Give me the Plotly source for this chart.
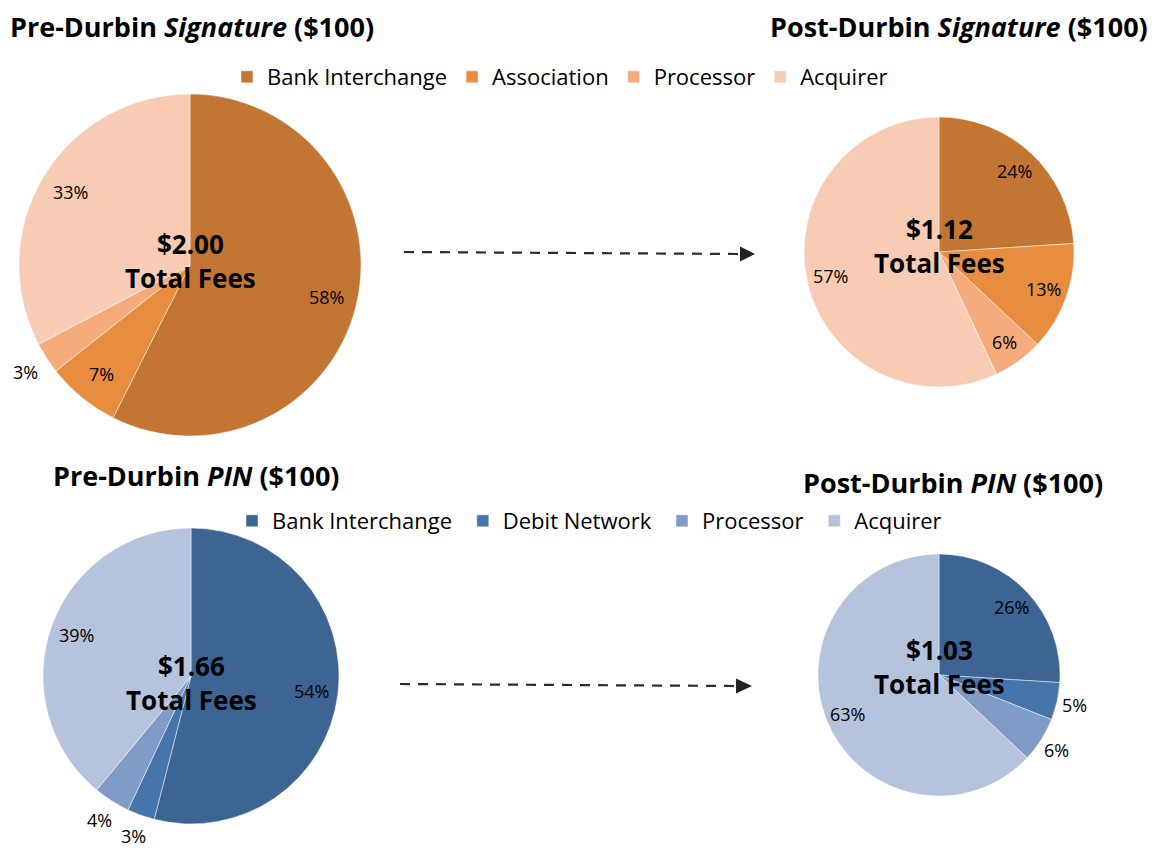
import math
import plotly.graph_objects as go

W, H = 1154, 848

# ---- data ----
sig_labels = ["Bank Interchange", "Association", "Processor", "Acquirer"]
pin_labels = ["Bank Interchange", "Debit Network", "Processor", "Acquirer"]
pre_sig_values = [58, 7, 3, 33]
post_sig_values = [24, 13, 6, 57]
pre_pin_values = [54, 3, 4, 39]
post_pin_values = [26, 5, 6, 63]
pre_sig_total = "$2.00"
post_sig_total = "$1.12"
pre_pin_total = "$1.66"
post_pin_total = "$1.03"

titles = [
    "<b>Pre-Durbin <i>Signature</i> ($100)</b>",
    "<b>Post-Durbin <i>Signature</i> ($100)</b>",
    "<b>Pre-Durbin <i>PIN</i> ($100)</b>",
    "<b>Post-Durbin <i>PIN</i> ($100)</b>",
]

# ---- style ----
orange = ["#C37634", "#E88D40", "#F5AB7B", "#F8CBB4"]
blue = ["#3C6594", "#4675AC", "#7F9BC6", "#B5C3DD"]
FONT = "Open Sans"

# pie geometry in pixels: (cx, cy, r, center-text y offset)
geo = {
    "pre_sig": (190, 265, 171, -4),
    "post_sig": (939, 252, 135, -6),
    "pre_pin": (191, 676, 148, 7),
    "post_pin": (939, 675, 121, -8),
}
INSIDE_R = 0.82
OUTSIDE_R = 1.15


def dom(key):
    cx, cy, r, _ = geo[key]
    return dict(x=[(cx - r) / W, (cx + r) / W], y=[1 - (cy + r) / H, 1 - (cy - r) / H])


def px(x):
    return x / W


def py(y):
    return 1 - y / H


fig = go.Figure()
annotations = []
specs = [
    ("pre_sig", sig_labels, pre_sig_values, orange, "legend", 3),
    ("post_sig", sig_labels, post_sig_values, orange, "legend", 0),
    ("pre_pin", [l + " " for l in pin_labels], pre_pin_values, blue, "legend2", 4),
    ("post_pin", [l + " " for l in pin_labels], post_pin_values, blue, "legend2", 6),
]
for key, labels, values, colors, leg, omax in specs:
    fig.add_trace(go.Pie(
        labels=labels, values=values, sort=False, direction="clockwise", rotation=0,
        domain=dom(key), marker=dict(colors=colors, line=dict(color="rgba(255,255,255,0.6)", width=0.8)),
        textinfo="none", legend=leg, showlegend=True, hoverinfo="label+value",
    ))
    # percentage labels along each slice's bisector
    cx, cy, r, _ = geo[key]
    total = sum(values)
    cum = 0
    for v in values:
        mid = (cum + v / 2) / total * 2 * math.pi
        cum += v
        k = OUTSIDE_R if v <= omax else INSIDE_R
        lx = cx + k * r * math.sin(mid)
        ly = cy - k * r * math.cos(mid)
        annotations.append(dict(x=px(lx), y=py(ly), xref="paper", yref="paper",
                                text=f"{v}%", showarrow=False, xanchor="center", yanchor="middle",
                                font=dict(family=FONT, size=18, color="black")))

totals = [("pre_sig", pre_sig_total), ("post_sig", post_sig_total),
          ("pre_pin", pre_pin_total), ("post_pin", post_pin_total)]
for key, tot in totals:
    cx, cy, r, off = geo[key]
    annotations.append(dict(x=px(cx), y=py(cy + off), xref="paper", yref="paper",
                            text=f"<b>{tot}<br>Total Fees</b>", showarrow=False,
                            xanchor="center", yanchor="middle",
                            font=dict(family=FONT, size=26, color="black"),
                            align="center"))

title_pos = [(8, 27, "left"), (1150, 27, "right"), (196, 475, "center"), (953, 482, "center")]
for t, (x, y, anc) in zip(titles, title_pos):
    annotations.append(dict(x=px(x), y=py(y), xref="paper", yref="paper", text=t,
                            showarrow=False, xanchor=anc, yanchor="middle",
                            font=dict(family=FONT, size=27, color="black")))

shapes = []
arrows = [((404, 252), (741, 254), (755, 254)), ((400, 684), (737, 686), (752, 686))]
for (x0, y0), (x1, y1), (xt, yt) in arrows:
    shapes.append(dict(type="line", xref="paper", yref="paper", x0=px(x0), y0=py(y0),
                       x1=px(x1), y1=py(y1), line=dict(color="#2B2B2B", width=2.2, dash="10px,8px")))
    shapes.append(dict(type="path", xref="paper", yref="paper",
                       path=f"M {px(x1 - 1)} {py(yt - 7.5)} L {px(xt)} {py(yt)} L {px(x1 - 1)} {py(yt + 7.5)} Z",
                       fillcolor="#222222", line=dict(width=0)))

fig.update_layout(
    width=W, height=H, margin=dict(l=0, r=0, t=0, b=0),
    paper_bgcolor="white", plot_bgcolor="white",
    font=dict(family=FONT, color="black"),
    annotations=annotations, shapes=shapes,
    legend=dict(orientation="h", x=px(227), y=py(77), xanchor="left", yanchor="middle",
                bgcolor="rgba(0,0,0,0)", font=dict(family=FONT, size=22, color="black"),
                itemclick=False, traceorder="normal"),
    legend2=dict(orientation="h", x=px(232), y=py(521), xanchor="left", yanchor="middle",
                 bgcolor="rgba(0,0,0,0)", font=dict(family=FONT, size=22, color="black"),
                 itemclick=False, traceorder="normal"),
)

fig.write_html("out.html", config={"displayModeBar": False},
               post_script="document.body.style.margin='0px';")
